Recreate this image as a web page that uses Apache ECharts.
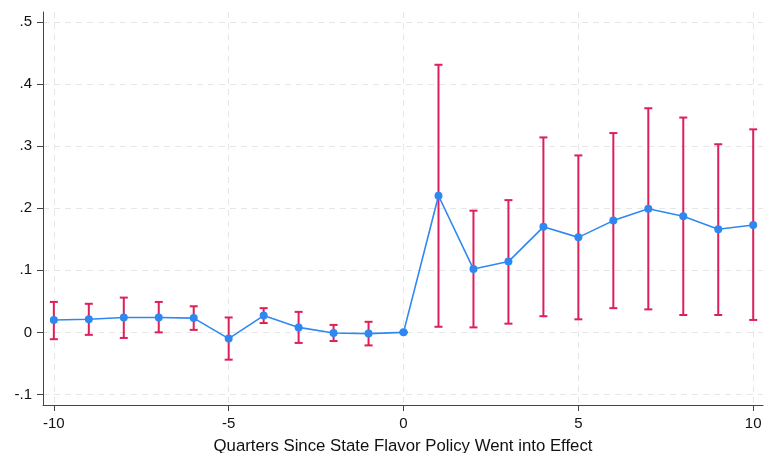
<!DOCTYPE html>
<html>
<head>
<meta charset="utf-8">
<script src="https://cdn.jsdelivr.net/npm/echarts@6/dist/echarts.min.js"></script>
<style>
html,body{margin:0;padding:0;background:#fff;}
#chart{width:764px;height:453px;}
</style>
</head>
<body>
<div id="chart"></div>
<script>
var quarters = [-10,-9,-8,-7,-6,-5,-4,-3,-2,-1,0,1,2,3,4,5,6,7,8,9,10];
var estimates = [0.020,0.021,0.024,0.024,0.023,-0.010,0.027,0.008,-0.001,-0.002,0,0.220,0.102,0.114,0.170,0.153,0.180,0.199,0.187,0.166,0.173];
var ciLower = [-0.011,-0.004,-0.009,0.000,0.004,-0.044,0.015,-0.017,-0.014,-0.021,0,0.009,0.008,0.014,0.026,0.021,0.039,0.037,0.028,0.028,0.020];
var ciUpper = [0.049,0.046,0.056,0.049,0.042,0.024,0.039,0.033,0.012,0.017,0,0.431,0.196,0.213,0.314,0.285,0.321,0.361,0.346,0.303,0.327];
var xTicks = [-10,-5,0,5,10];
var yTicks = [-0.1,0,0.1,0.2,0.3,0.4,0.5];
var xTitle = 'Quarters Since State Flavor Policy Went into Effect';

var FONT = '"Liberation Sans", Arial, Helvetica, sans-serif';
var RED = '#dd1f5c';
var BLUE = '#2f88f2';

function fmtY(v){
  var r = Math.round(v*10)/10;
  if (r === 0) return '0';
  var s = String(r);
  return s.replace('0.', '.');
}

var pointData = quarters.map(function(q,i){ return [q, estimates[i]]; });
var barData = quarters.map(function(q,i){ return [q, ciLower[i], ciUpper[i]]; });

var chart = echarts.init(document.getElementById('chart'), null, {renderer:'canvas'});
chart.setOption({
  animation: false,
  backgroundColor: '#fff',
  grid: {left: 43, right: 1, top: 12, bottom: 48, containLabel: false, outerBoundsMode: 'none'},
  xAxis: {
    type: 'value',
    min: -10.31, max: 10.28,
    name: xTitle,
    nameLocation: 'middle',
    nameGap: 33,
    nameTextStyle: {fontFamily: FONT, fontSize: 16.8, color: '#111'},
    axisLine: {show: true, onZero: false, lineStyle: {color: '#444', width: 1}},
    axisTick: {show: true, length: 6, customValues: xTicks, lineStyle: {color: '#444'}},
    axisLabel: {show: true, customValues: xTicks, margin: 11, fontFamily: FONT, fontSize: 15, color: '#111',
      formatter: function(v){ return String(v); }},
    splitLine: {show: true, lineStyle: {color: '#e6e6e6', type: [6,5], width: 1}}
  },
  yAxis: {
    type: 'value',
    min: -0.117, max: 0.516,
    axisLine: {show: true, onZero: false, lineStyle: {color: '#444', width: 1}},
    axisTick: {show: true, length: 6, customValues: yTicks, lineStyle: {color: '#444'}},
    axisLabel: {show: true, customValues: yTicks, margin: 11, fontFamily: FONT, fontSize: 15, color: '#111',
      formatter: fmtY},
    splitLine: {show: true, lineStyle: {color: '#e6e6e6', type: [6,5], width: 1}}
  },
  series: [
    {
      type: 'custom',
      z: 2,
      data: barData,
      renderItem: function(params, api){
        var x = api.value(0);
        var lo = api.coord([x, api.value(1)]);
        var hi = api.coord([x, api.value(2)]);
        var hw = 4;
        var st = {stroke: RED, lineWidth: 2, fill: null};
        return {
          type: 'group',
          children: [
            {type:'line', shape:{x1:lo[0], y1:lo[1], x2:hi[0], y2:hi[1]}, style: st},
            {type:'line', shape:{x1:lo[0]-hw, y1:lo[1], x2:lo[0]+hw, y2:lo[1]}, style: st},
            {type:'line', shape:{x1:hi[0]-hw, y1:hi[1], x2:hi[0]+hw, y2:hi[1]}, style: st}
          ]
        };
      }
    },
    {
      type: 'line',
      z: 3,
      data: pointData,
      symbol: 'circle',
      symbolSize: 8,
      showSymbol: true,
      lineStyle: {color: BLUE, width: 1.6},
      itemStyle: {color: BLUE},
      emphasis: {disabled: true}
    }
  ]
});
</script>
</body>
</html>
